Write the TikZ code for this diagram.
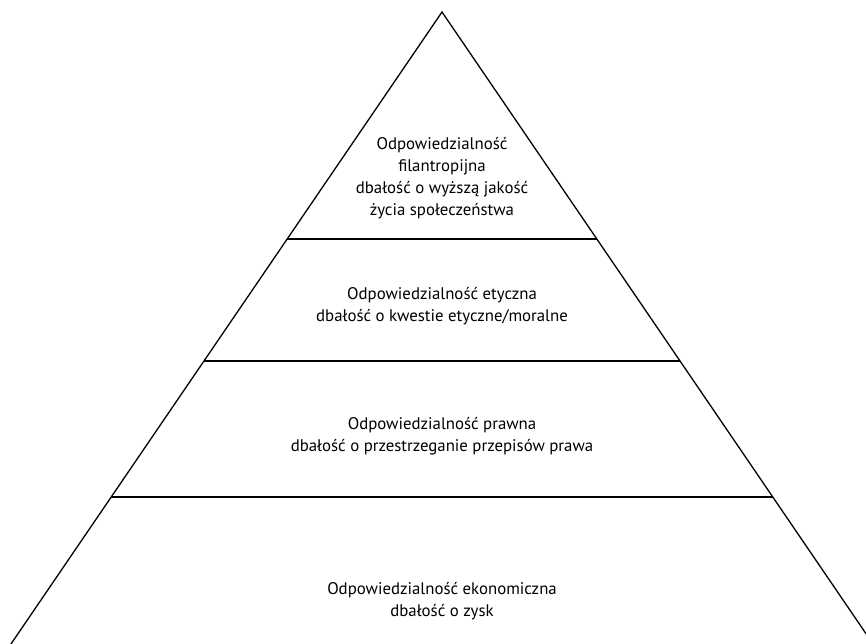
\documentclass[tikz,border=0pt]{standalone}
\usepackage{fontspec}
\setmainfont{PT Sans}
\usetikzlibrary{calc}
\begin{document}
\begin{tikzpicture}[x=1pt, y=-1pt,
    tier/.style ={align=center, font=\fontsize{16.8}{22}\selectfont, inner sep=0pt},
    edge/.style ={line width=1.3pt, line join=miter}]
   \useasboundingbox (0,0) rectangle (866,643);
   \clip (0,0) rectangle (866,643);
   \coordinate (T)  at (442,12);
   \coordinate (L)  at (5.5,652);
   \coordinate (R)  at (878.5,652);
   \coordinate (L1) at ($(T)!0.3547!(L)$);
   \coordinate (R1) at ($(T)!0.3547!(R)$);
   \coordinate (L2) at ($(T)!0.5453!(L)$);
   \coordinate (R2) at ($(T)!0.5453!(R)$);
   \coordinate (L3) at ($(T)!0.7578!(L)$);
   \coordinate (R3) at ($(T)!0.7578!(R)$);

   \draw[edge] (L) -- (T) -- (R);
   \draw[edge] (L1) to (R1);
   \draw[edge] (L2) to (R2);
   \draw[edge] (L3) to (R3);

   \node[tier] (filantropia) at (442,178) {Odpowiedzialność\\filantropijna\\dbałość o wyższą jakość\\życia społeczeństwa};
   \node[tier] (etyka)       at (442,306) {Odpowiedzialność etyczna\\dbałość o kwestie etyczne/moralne};
   \node[tier] (prawo)       at (442,436) {Odpowiedzialność prawna\\dbałość o przestrzeganie przepisów prawa};
   \node[tier] (ekonomia)    at (442,601) {Odpowiedzialność ekonomiczna\\dbałość o zysk};
 \end{tikzpicture}
\end{document}
